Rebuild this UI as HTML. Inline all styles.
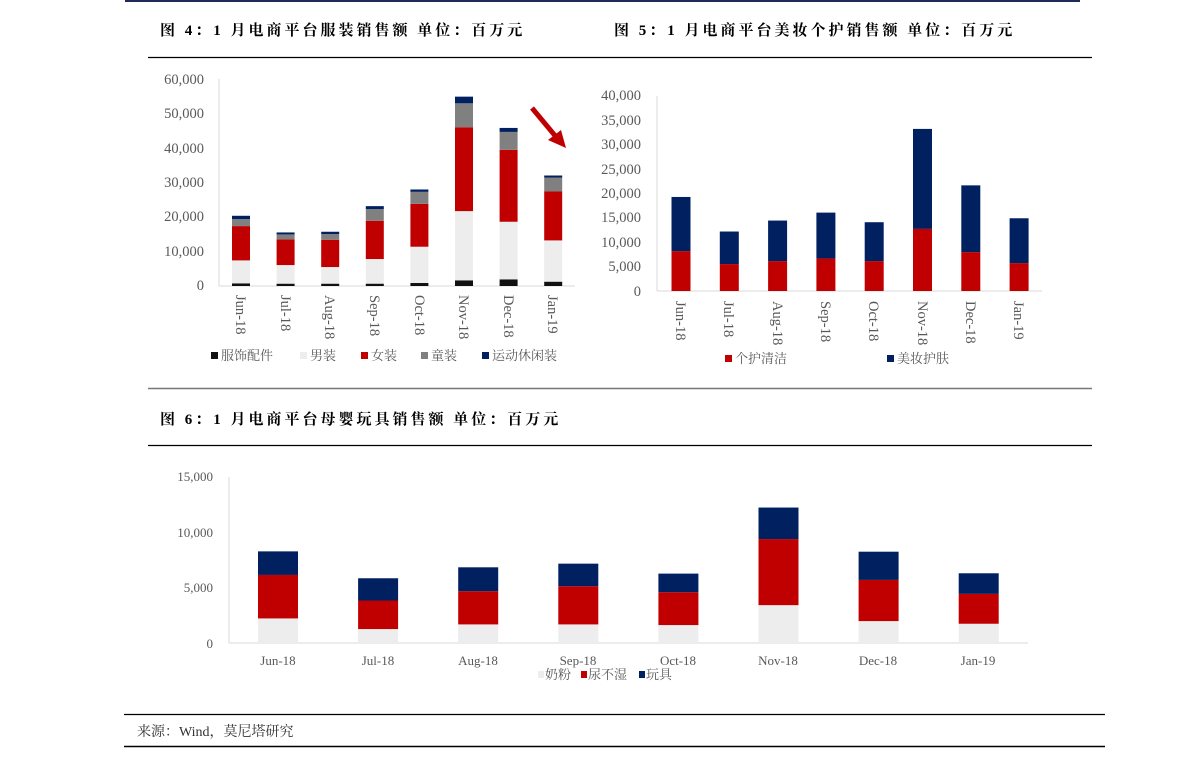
<!DOCTYPE html>
<html><head><meta charset="utf-8"><style>
html,body{margin:0;padding:0;background:#fff;}
svg{display:block;}
.t{font-family:"Liberation Serif","Noto Serif CJK SC",serif;font-size:13px;fill:#595959;}
.t2{font-family:"Liberation Serif","Noto Serif CJK SC",serif;font-size:14.5px;fill:#595959;}
.h{font-family:"Liberation Serif","Noto Serif CJK SC",serif;font-size:15px;font-weight:bold;fill:#000;letter-spacing:3px;}
</style></head><body>
<svg id="s" width="1191" height="760" xmlns="http://www.w3.org/2000/svg">
<line x1="125" y1="1" x2="1080" y2="1" stroke="#1f2a5a" stroke-width="2"/>
<text class="h" x="160" y="35">图 4：1 月电商平台服装销售额 单位：百万元</text>
<text class="h" x="614" y="35">图 5：1 月电商平台美妆个护销售额 单位：百万元</text>
<line x1="148" y1="57.5" x2="1092" y2="57.5" stroke="#000" stroke-width="1.3"/>
<line x1="148" y1="388.5" x2="1092" y2="388.5" stroke="#777" stroke-width="1.5"/>
<text class="h" x="160" y="424">图 6：1 月电商平台母婴玩具销售额 单位：百万元</text>
<line x1="148" y1="445.5" x2="1092" y2="445.5" stroke="#000" stroke-width="1.3"/>
<line x1="124" y1="714.5" x2="1105" y2="714.5" stroke="#000" stroke-width="1.3"/>
<text x="137" y="736" style="font-family:'Liberation Serif','Noto Serif CJK SC',serif;font-size:14px;fill:#333">来源：Wind，莫尼塔研究</text>
<line x1="124" y1="746.5" x2="1105" y2="746.5" stroke="#000" stroke-width="1.5"/>

<!-- chart 1 axes -->
<line x1="219" y1="79" x2="219" y2="286" stroke="#d9d9d9"/>
<line x1="219" y1="286" x2="575" y2="286" stroke="#d9d9d9"/>
<g class="t2" text-anchor="end">
<text x="204" y="84">60,000</text><text x="204" y="118">50,000</text><text x="204" y="153">40,000</text>
<text x="204" y="187">30,000</text><text x="204" y="221">20,000</text><text x="204" y="256">10,000</text><text x="204" y="290">0</text>
</g>
<g class="t2">
<text transform="translate(236,295) rotate(90)">Jun-18</text>
<text transform="translate(281,295) rotate(90)">Jul-18</text>
<text transform="translate(325,295) rotate(90)">Aug-18</text>
<text transform="translate(370,295) rotate(90)">Sep-18</text>
<text transform="translate(415,295) rotate(90)">Oct-18</text>
<text transform="translate(459,295) rotate(90)">Nov-18</text>
<text transform="translate(504,295) rotate(90)">Dec-18</text>
<text transform="translate(548,295) rotate(90)">Jan-19</text>
</g>
<g class="t">
<rect x="211" y="352" width="7" height="7" fill="#111"/><text x="221" y="360">服饰配件</text>
<rect x="300" y="352" width="7" height="7" fill="#ededed"/><text x="310" y="360">男装</text>
<rect x="361" y="352" width="7" height="7" fill="#c00000"/><text x="371" y="360">女装</text>
<rect x="421" y="352" width="7" height="7" fill="#808080"/><text x="431" y="360">童装</text>
<rect x="482" y="352" width="7" height="7" fill="#002060"/><text x="492" y="360">运动休闲装</text>
</g>
<line x1="532" y1="108" x2="557" y2="138" stroke="#c00000" stroke-width="5"/>
<polygon points="566,148 548,140 561,130" fill="#c00000"/>

<!-- chart 2 axes -->
<line x1="657" y1="96" x2="657" y2="291" stroke="#d9d9d9"/>
<line x1="657" y1="291" x2="1042" y2="291" stroke="#d9d9d9"/>
<g class="t2" text-anchor="end">
<text x="641" y="100">40,000</text><text x="641" y="125">35,000</text><text x="641" y="149">30,000</text>
<text x="641" y="174">25,000</text><text x="641" y="198">20,000</text><text x="641" y="222">15,000</text>
<text x="641" y="247">10,000</text><text x="641" y="271">5,000</text><text x="641" y="296">0</text>
</g>
<g class="t2">
<text transform="translate(676,301) rotate(90)">Jun-18</text>
<text transform="translate(724,301) rotate(90)">Jul-18</text>
<text transform="translate(773,301) rotate(90)">Aug-18</text>
<text transform="translate(821,301) rotate(90)">Sep-18</text>
<text transform="translate(869,301) rotate(90)">Oct-18</text>
<text transform="translate(918,301) rotate(90)">Nov-18</text>
<text transform="translate(966,301) rotate(90)">Dec-18</text>
<text transform="translate(1014,301) rotate(90)">Jan-19</text>
</g>
<g class="t">
<rect x="725" y="355" width="7" height="7" fill="#c00000"/><text x="735" y="363">个护清洁</text>
<rect x="887" y="355" width="7" height="7" fill="#002060"/><text x="897" y="363">美妆护肤</text>
</g>

<!-- chart 3 axes -->
<line x1="229" y1="477" x2="229" y2="643" stroke="#d9d9d9"/>
<line x1="229" y1="643" x2="1028" y2="643" stroke="#d9d9d9"/>
<g class="t" text-anchor="end">
<text x="213" y="481">15,000</text><text x="213" y="537">10,000</text><text x="213" y="592">5,000</text><text x="213" y="648">0</text>
</g>
<g class="t" text-anchor="middle">
<text x="278" y="665">Jun-18</text><text x="378" y="665">Jul-18</text><text x="478" y="665">Aug-18</text>
<text x="578" y="665">Sep-18</text><text x="678" y="665">Oct-18</text><text x="778" y="665">Nov-18</text>
<text x="878" y="665">Dec-18</text><text x="978" y="665">Jan-19</text>
</g>
<g class="t">
<rect x="538" y="671" width="6" height="7" fill="#ededed"/><text x="545" y="679">奶粉</text>
<rect x="581" y="671" width="6" height="7" fill="#c00000"/><text x="588" y="679">尿不湿</text>
<rect x="639" y="671" width="6" height="7" fill="#002060"/><text x="646" y="679">玩具</text>
</g>
<g id="bars"></g>
</svg>
<script>
var g=document.getElementById('bars'),NS='http://www.w3.org/2000/svg';
function r(x,y,w,h,c){var e=document.createElementNS(NS,'rect');e.setAttribute('x',x);e.setAttribute('y',y);e.setAttribute('width',w);e.setAttribute('height',h);e.setAttribute('fill',c);g.appendChild(e);}
function chart(c0,dx,w,y0,sc,cols,data){
 data.forEach(function(d,i){var cx=c0+dx*i,prev=0;
  d.forEach(function(v,j){var top=y0-v*sc,bot=y0-prev*sc;r(cx-w/2,top,w,bot-top,cols[j]);prev=v;});});
}
chart(241,44.6,18,286,206/60000,['#111','#ededed','#c00000','#808080','#002060'],
[[775,7460,17450,19480,20450],[680,6100,13570,15020,15600],[680,5520,13470,15120,15800],[680,7850,19000,22390,23260],
[870,11440,23940,27430,28110],[1650,21810,46240,53210,55150],[1940,18710,39650,44880,46040],[1260,13280,27530,31600,32180]]);
chart(681,48.3,19,291,195/40000,['#c00000','#002060'],
[[8180,19290],[5520,12200],[6130,14450],[6680,16080],[6130,14110],[12740,33250],[7970,21670],[5720,14920]]);
chart(278,100.1,40,643,166/15000,['#ededed','#c00000','#002060'],
[[2220,6150,8280],[1260,3840,5850],[1680,4680,6840],[1680,5130,7170],[1620,4590,6270],[3420,9390,12240],[1980,5700,8250],[1740,4440,6300]]);
</script>
</body></html>
